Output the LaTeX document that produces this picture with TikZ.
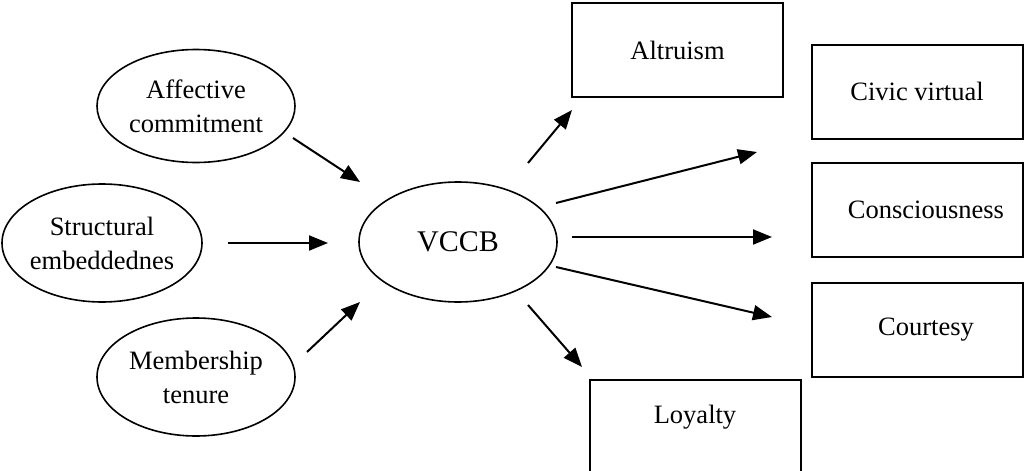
\documentclass[tikz,border=0pt]{standalone}
\usepackage{fontspec}
\setmainfont{Liberation Serif}
\usetikzlibrary{shapes.geometric,arrows.meta}
\begin{document}
\begin{tikzpicture}[x=0.5pt,y=-0.5pt,
  ell/.style={draw, line width=0.8pt, ellipse, inner sep=-8pt, align=center,
    font=\fontsize{13.25pt}{17pt}\selectfont},
  boxnode/.style={draw, line width=1pt, rectangle, inner sep=0pt,
    minimum width=105.5pt, minimum height=47pt,
    font=\fontsize{13.25pt}{17pt}\selectfont},
  arr/.style={line width=1pt, -{Triangle[length=9.5pt,width=7.5pt]}}]
\useasboundingbox (0,0) rectangle (1024,471);
\clip (0,0) rectangle (1024,471);
% ellipses
\node[ell, minimum width=99pt, minimum height=56.5pt] (aff) at (196,106) {Affective\\commitment};
\node[ell, minimum width=100pt, minimum height=59pt] (str) at (102,243) {Structural\\embeddednes};
\node[ell, minimum width=99pt, minimum height=59pt] (mem) at (196,377) {Membership\\tenure};
\node[ell, minimum width=99pt, minimum height=60pt, font=\fontsize{15pt}{18pt}\selectfont] (vccb) at (458,242) {VCCB};
% boxes
\node[boxnode] (alt) at (677.5,50) {Altruism};
\node[boxnode] (civ) at (917,91.5) {Civic virtual};
\node[boxnode] (con) at (917,210) {\hspace*{9pt}Consciousness};
\node[boxnode] (cou) at (917,330) {\hspace*{9pt}Courtesy};
\node[boxnode, anchor=north, minimum height=0pt, inner ysep=12.5pt, text height=9pt, text depth=25pt] (loy) at (695,379) {Loyalty};
% arrow end points
\coordinate (a1s) at (293,138); \coordinate (a1e) at (360,182);
\coordinate (a2s) at (228,243); \coordinate (a2e) at (328,243);
\coordinate (a3s) at (307,352); \coordinate (a3e) at (360,302);
\coordinate (r1s) at (528,163); \coordinate (r1e) at (572,110);
\coordinate (r2s) at (556,203); \coordinate (r2e) at (757,152);
\coordinate (r3s) at (572,237); \coordinate (r3e) at (772,237);
\coordinate (r4s) at (556,267); \coordinate (r4e) at (772,317);
\coordinate (r5s) at (528,305); \coordinate (r5e) at (582,367);
\draw[arr] (a1s) -- (a1e);
\draw[arr] (a2s) -- (a2e);
\draw[arr] (a3s) -- (a3e);
\draw[arr] (r1s) -- (r1e);
\draw[arr] (r2s) -- (r2e);
\draw[arr] (r3s) -- (r3e);
\draw[arr] (r4s) -- (r4e);
\draw[arr] (r5s) -- (r5e);
\end{tikzpicture}
\end{document}
